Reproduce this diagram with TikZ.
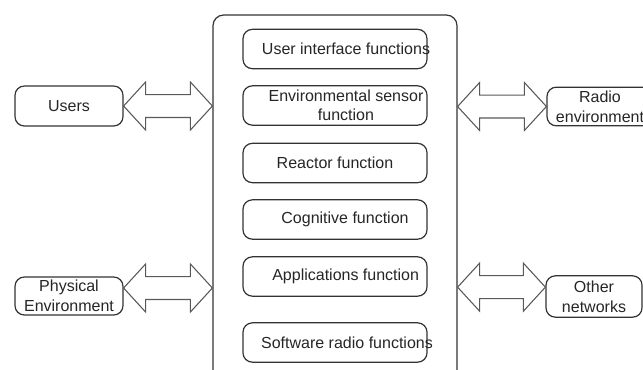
\documentclass[tikz,border=0pt]{standalone}
\usepackage{fontspec}
\setmainfont{Liberation Sans}
\usepackage{tikz}
\usetikzlibrary{calc,positioning}

\tikzset{
  ext/.style={draw=black!80, line width=0.9pt, rounded corners=7pt, fill=white,
    align=center, font=\fontsize{12}{15}\selectfont, text=black!85, inner sep=0pt},
  func/.style={ext, minimum width=138pt, minimum height=29.5pt},
  ftext/.style={font=\fontsize{12}{14}\selectfont, text=black!85, align=center, inner sep=0pt},
  link/.style={draw=black!65, line width=0.8pt, fill=white, line join=miter},
}
% double block arrow, tips at #1 and #2 (height taken from #1)
\newcommand{\dblarrow}[2]{%
  \path[link] let \p1=(#1), \p2=(#2) in
    (\x1,\y1) -- (\x1+16.5pt,\y1+18pt) -- (\x1+16.5pt,\y1+8.6pt)
    -- (\x2-16.5pt,\y1+8.6pt) -- (\x2-16.5pt,\y1+18pt) -- (\x2,\y1)
    -- (\x2-16.5pt,\y1-18pt) -- (\x2-16.5pt,\y1-8.6pt)
    -- (\x1+16.5pt,\y1-8.6pt) -- (\x1+16.5pt,\y1-18pt) -- cycle;}

\begin{document}
\begin{tikzpicture}[x=0.75pt, y=-0.75pt]
  \useasboundingbox (0,0) rectangle (643,369);

  % system block, open at the bottom
  \node[draw=black!80, line width=0.9pt, rounded corners=8pt, minimum width=183pt,
    minimum height=288.75pt, inner sep=0pt] (sys) at (335,207.5) {};

  % functions
  \node[func] (ui) at (335,49) {};
  \node[ftext] (uitext) at ([xshift=8.25pt]ui.center) {User interface functions};
  \node[func] (env) at (335,105.5) {};
  \node[ftext] (envtext) at ([xshift=8.25pt]env.center) {Environmental sensor\\function};
  \node[func] (reac) at (335,163) {};
  \node[ftext] (reactext) at (reac.center) {Reactor function};
  \node[func] (cog) at (335,219.5) {};
  \node[ftext] (cogtext) at ([xshift=7.5pt]cog.center) {Cognitive function};
  \node[func] (app) at (335,276.5) {};
  \node[ftext] (apptext) at ([xshift=8pt]app.center) {Applications function};
  \node[func] (soft) at (335,342.5) {};
  \node[ftext] (softtext) at ([xshift=9pt]soft.center) {Software radio functions};

  % outside world
  \node[ext, minimum width=81pt, minimum height=30pt] (users) at (69,106) {Users};
  \node[ext, minimum width=81pt, minimum height=28.5pt] (phys) at (69,296) {Physical\\Environment};
  \node[ext, minimum width=79.5pt, minimum height=29pt] (radio) at (600,106.5) {Radio\\environment};
  \node[ext, minimum width=72pt, minimum height=31pt] (other) at (594,296.5) {Other\\networks};

  \coordinate (pR) at ([yshift=6pt]phys.east);
  \coordinate (oL) at ([yshift=7pt]other.west);

  \dblarrow{users.east}{sys.west |- users.east}
  \dblarrow{pR}{sys.west |- pR}
  \dblarrow{sys.east |- radio.west}{radio.west}
  \dblarrow{sys.east |- oL}{oL}
\end{tikzpicture}
\end{document}
